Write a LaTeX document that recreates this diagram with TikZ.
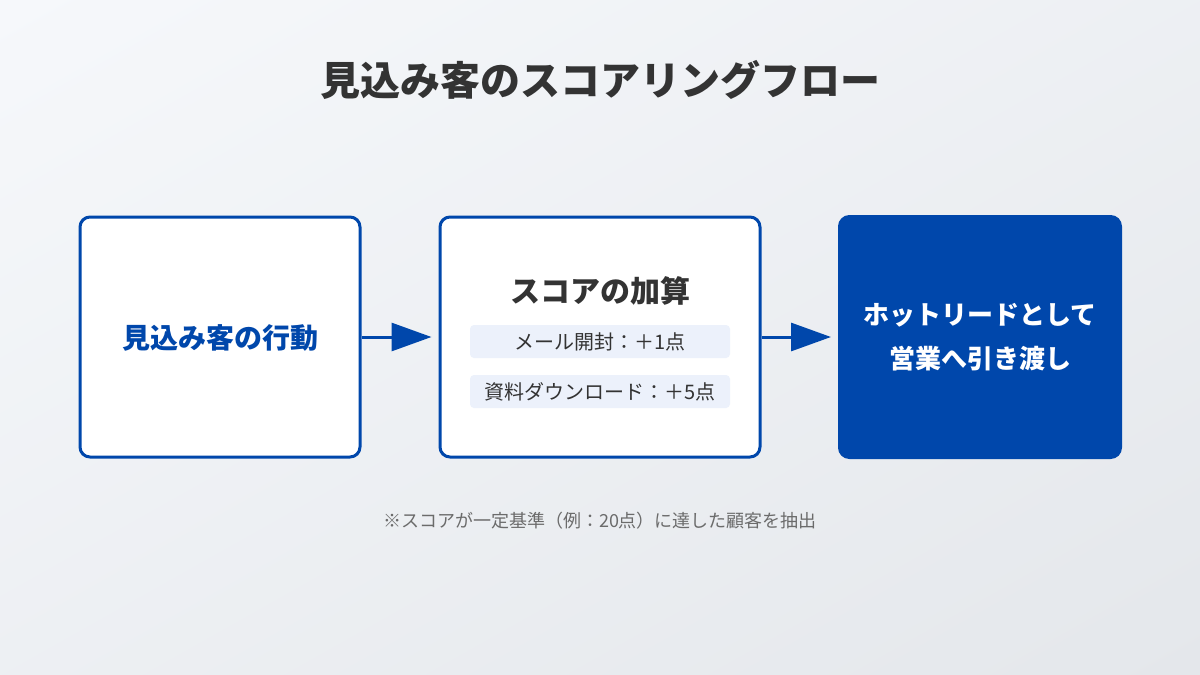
\documentclass[tikz,border=0pt]{standalone}
\usepackage{fontspec}
\setmainfont{Noto Sans CJK JP}
\usetikzlibrary{arrows.meta,positioning,shadings}
\definecolor{flowblue}{HTML}{0047AB}
\definecolor{titlegray}{HTML}{333333}
\definecolor{notegray}{HTML}{6B6B6B}
\definecolor{itemfill}{HTML}{ECF1FB}
\definecolor{bgtop}{HTML}{F6F8FB}
\definecolor{bgbottom}{HTML}{E4E7EB}
\tikzset{
  stagebox/.style={draw=flowblue,line width=3pt,rounded corners=10pt,fill=white,
    minimum width=280pt,minimum height=240pt,inner sep=0pt},
  itembox/.style={fill=itemfill,rounded corners=4pt,minimum width=260pt,
    minimum height=33pt,inner sep=0pt,text=titlegray,font=\fontsize{20}{24}\selectfont},
  flowarrow/.style={draw=flowblue,line width=3pt,-{Triangle[length=40pt,width=28pt]},
    shorten >=7pt}
}
\begin{document}
\begin{tikzpicture}[x=1pt,y=-1pt]
\useasboundingbox (0,0) rectangle (1200,675);
% background:
\shade[upper left=bgtop,lower right=bgbottom,upper right=bgtop!50!bgbottom,
  lower left=bgtop!50!bgbottom] (0,0) rectangle (1200,675);
% title:
\node[text=titlegray,font=\fontsize{40}{46}\selectfont\bfseries] (title) at (600,80)
  {見込み客のスコアリングフロー};
% stages:
\node[stagebox] (action) at (220,337) {};
\node[text=flowblue,font=\fontsize{28}{32}\selectfont\bfseries] (actionlabel) at (220,338)
  {見込み客の行動};
\node[stagebox,minimum width=320pt] (score) at (600,337) {};
\node[text=titlegray,font=\fontsize{30}{36}\selectfont\bfseries] (scorelabel) at (600,291)
  {スコアの加算};
\node[itembox] (mail) at (600,341.5) {メール開封：＋1点};
\node[itembox] (download) at (600,391.5) {資料ダウンロード：＋5点};
\node[stagebox,fill=flowblue,minimum width=281pt,minimum height=241pt,
  text=white,align=center,font=\fontsize{26}{44}\selectfont\bfseries] (handoff) at (980,337)
  {ホットリードとして\\営業へ引き渡し};
% arrows:
\draw[flowarrow] (action) -- (score);
\draw[flowarrow] (score) -- (handoff);
% note:
\node[text=notegray,font=\fontsize{18}{22}\selectfont] (note) at (600,521)
  {※スコアが一定基準（例：20点）に達した顧客を抽出};
\end{tikzpicture}
\end{document}
